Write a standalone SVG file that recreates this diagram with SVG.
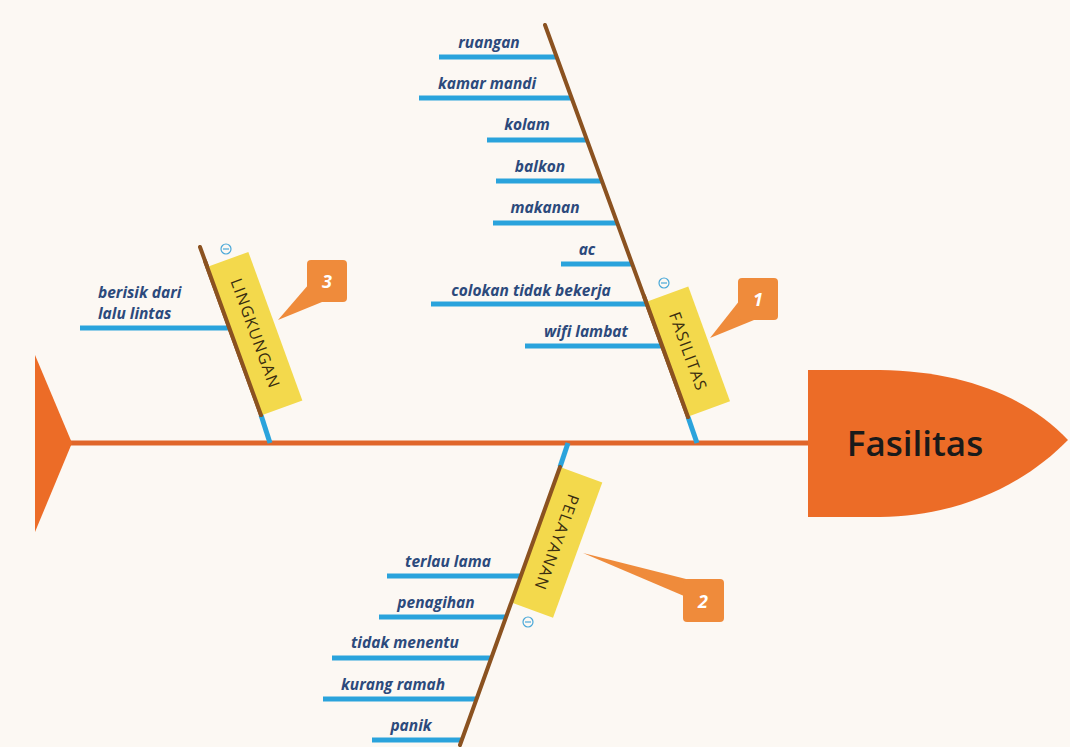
<svg xmlns="http://www.w3.org/2000/svg" width="1070" height="747" viewBox="0 0 1070 747">
<defs>
<style>
.bg{fill:#fcf8f3}
.spine{stroke:#e0662a;stroke-width:5;fill:none}
.fish{fill:#ec6c27}
.bone{stroke:#8b5220;stroke-width:4;fill:none;stroke-linecap:round}
.sub{stroke:#2aa3dc;stroke-width:5;fill:none}
.lbl{font-family:"Open Sans","Liberation Sans",sans-serif;font-size:15.5px;font-weight:bold;font-style:italic;fill:#2c4a7c}
.box{fill:#f3d94c}
.boxtxt{font-family:"Open Sans","Liberation Sans",sans-serif;font-size:16px;fill:#3a2e10;letter-spacing:1.2px}
.call{fill:#ef8b3b}
.num{font-family:"Open Sans","Liberation Sans",sans-serif;font-size:18px;font-weight:bold;font-style:italic;fill:#ffffff}
.col{fill:none;stroke:#4aa8d8;stroke-width:1.2}
.head{font-family:"Open Sans","Liberation Sans",sans-serif;font-size:35px;font-weight:600;fill:#1a1a1a}
</style>
</defs>
<rect class="bg" x="0" y="0" width="1070" height="747"/>

<g id="connectors">
  <line class="spine" x1="70" y1="443" x2="810" y2="443"/>
  <line class="sub" x1="688" y1="417" x2="697" y2="443"/>
  <line class="sub" x1="439" y1="57" x2="556" y2="57"/>
  <line class="sub" x1="419" y1="98" x2="571" y2="98"/>
  <line class="sub" x1="487" y1="140" x2="587" y2="140"/>
  <line class="sub" x1="496" y1="181" x2="602" y2="181"/>
  <line class="sub" x1="493" y1="223" x2="617" y2="223"/>
  <line class="sub" x1="561" y1="264" x2="632" y2="264"/>
  <line class="sub" x1="431" y1="304" x2="647" y2="304"/>
  <line class="sub" x1="525" y1="346" x2="662" y2="346"/>
  <line class="bone" x1="545" y1="25" x2="688" y2="417"/>
  <line class="sub" x1="261" y1="415" x2="270" y2="443"/>
  <line class="sub" x1="80" y1="328" x2="229" y2="328"/>
  <line class="bone" x1="200" y1="247" x2="261" y2="415"/>
  <line class="sub" x1="568" y1="443" x2="560" y2="467"/>
  <line class="sub" x1="387" y1="576" x2="521" y2="576"/>
  <line class="sub" x1="379" y1="617" x2="506" y2="617"/>
  <line class="sub" x1="332" y1="658" x2="491" y2="658"/>
  <line class="sub" x1="323" y1="699" x2="477" y2="699"/>
  <line class="sub" x1="372" y1="740" x2="463" y2="740"/>
</g>

<g id="tail">
  <polygon class="fish" points="35,355 72,443 35,532"/>
</g>

<g id="head">
  <path class="fish" d="M808,370 L880,370 C960,371 1025,395 1068,440 C1025,484 960,516 880,517 L808,517 Z"/>
  <text class="head" x="915" y="456" text-anchor="middle">Fasilitas</text>
</g>

<g id="fasilitas">
  <g transform="translate(646,302) rotate(70)">
    <rect class="box" x="0" y="-45" width="122" height="45"/>
    <text class="boxtxt" x="61" y="-17" text-anchor="middle">FASILITAS</text>
  </g>
  <line class="bone" x1="644" y1="296" x2="688" y2="417"/>
  <circle class="col" cx="664" cy="283" r="5"/>
  <line x1="661" y1="283" x2="667" y2="283" stroke="#4aa8d8" stroke-width="1.2"/>
</g>

<g id="fasilitas-items">
  <text class="lbl" x="489" y="48" text-anchor="middle">ruangan</text>
  <text class="lbl" x="487" y="89" text-anchor="middle">kamar mandi</text>
  <text class="lbl" x="527" y="130" text-anchor="middle">kolam</text>
  <text class="lbl" x="540" y="172" text-anchor="middle">balkon</text>
  <text class="lbl" x="545" y="213" text-anchor="middle">makanan</text>
  <text class="lbl" x="587" y="255" text-anchor="middle">ac</text>
  <text class="lbl" x="531" y="296" text-anchor="middle">colokan tidak bekerja</text>
  <text class="lbl" x="586" y="337" text-anchor="middle">wifi lambat</text>
</g>

<g id="callout-1">
  <polygon class="call" points="740,300 754,320 710,338"/>
  <rect class="call" x="738" y="278" width="40" height="42" rx="4"/>
  <text class="num" x="758" y="306" text-anchor="middle">1</text>
</g>

<g id="lingkungan">
  <g transform="translate(207,267) rotate(70)">
    <rect class="box" x="0" y="-44" width="158" height="44"/>
    <text class="boxtxt" x="79" y="-17" text-anchor="middle">LINGKUNGAN</text>
  </g>
  <line class="bone" x1="205" y1="261" x2="261" y2="415"/>
  <circle class="col" cx="226" cy="249" r="5"/>
  <line x1="223" y1="249" x2="229" y2="249" stroke="#4aa8d8" stroke-width="1.2"/>
  <text class="lbl" x="98" y="298">berisik dari</text>
  <text class="lbl" x="98" y="319">lalu lintas</text>
</g>

<g id="callout-3">
  <polygon class="call" points="309,284 322,302 278,320"/>
  <rect class="call" x="307" y="260" width="40" height="42" rx="4"/>
  <text class="num" x="327" y="288" text-anchor="middle">3</text>
</g>

<g id="pelayanan">
  <g transform="translate(560,467) rotate(110)">
    <rect class="box" x="0" y="-45" width="144" height="45"/>
    <text class="boxtxt" x="72" y="-17" text-anchor="middle">PELAYANAN</text>
  </g>
  <line class="bone" x1="560" y1="467" x2="460" y2="745"/>
  <circle class="col" cx="528" cy="622" r="5"/>
  <line x1="525" y1="622" x2="531" y2="622" stroke="#4aa8d8" stroke-width="1.2"/>
</g>

<g id="pelayanan-items">
  <text class="lbl" x="448" y="567" text-anchor="middle">terlau lama</text>
  <text class="lbl" x="436" y="608" text-anchor="middle">penagihan</text>
  <text class="lbl" x="405" y="648" text-anchor="middle">tidak menentu</text>
  <text class="lbl" x="393" y="690" text-anchor="middle">kurang ramah</text>
  <text class="lbl" x="411" y="731" text-anchor="middle">panik</text>
</g>

<g id="callout-2">
  <polygon class="call" points="583,553 690,580 684,596"/>
  <rect class="call" x="683" y="579" width="41" height="43" rx="4"/>
  <text class="num" x="703" y="608" text-anchor="middle">2</text>
</g>
</svg>
